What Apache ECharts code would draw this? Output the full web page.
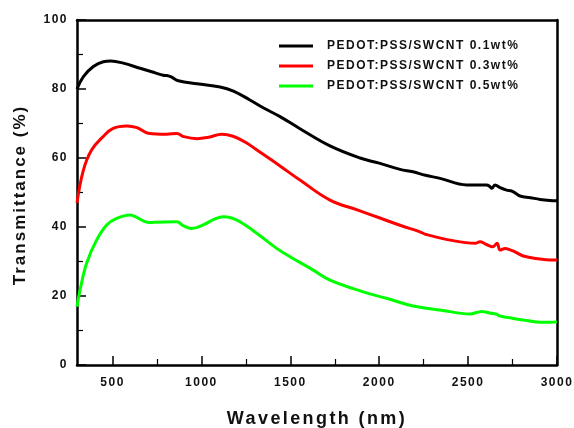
<!DOCTYPE html>
<html>
<head>
<meta charset="utf-8">
<script src="https://cdn.jsdelivr.net/npm/echarts@6/dist/echarts.min.js"></script>
<style>html,body{margin:0;padding:0;background:#fff;}#c{width:574px;height:428px;}</style>
</head>
<body>
<div id="c"></div>
<script>
// ---- data ----
const seriesNames = ['PEDOT:PSS/SWCNT 0.1wt%', 'PEDOT:PSS/SWCNT 0.3wt%', 'PEDOT:PSS/SWCNT 0.5wt%'];
const blackX = [300, 336, 392, 448, 490, 560, 655, 720, 785, 805, 830, 870, 975, 1105, 1180, 1270, 1350, 1442, 1554, 1723, 1892, 2000, 2117, 2190, 2260, 2342, 2492, 2604, 2623, 2633, 2651, 2680, 2717, 2740, 2764, 2792, 2850, 2905, 2960, 3000];
const blackY = [80.0, 83.6, 86.5, 87.9, 88.1, 87.5, 86.0, 85.0, 84.0, 83.9, 83.5, 82.4, 81.5, 80.6, 79.4, 76.9, 74.5, 72.0, 68.5, 63.5, 60.0, 58.5, 56.7, 56.0, 55.0, 54.1, 52.2, 52.2, 51.7, 51.2, 52.2, 51.4, 50.7, 50.5, 49.9, 49.0, 48.5, 48.0, 47.7, 47.6];
const redX = [300, 336, 382, 447, 503, 580, 637, 700, 805, 862, 900, 975, 1040, 1115, 1178, 1250, 1312, 1442, 1554, 1723, 1880, 2004, 2117, 2229, 2260, 2398, 2540, 2567, 2600, 2640, 2663, 2680, 2708, 2740, 2764, 2810, 2905, 2960, 3000];
const redY = [47.0, 56.5, 62.3, 66.2, 68.6, 69.3, 68.8, 67.2, 66.9, 67.1, 66.2, 65.6, 66.0, 66.9, 66.3, 64.5, 62.3, 57.7, 53.6, 47.8, 44.9, 42.6, 40.5, 38.6, 37.9, 36.2, 35.3, 35.7, 35.0, 34.3, 35.3, 33.3, 33.8, 33.3, 32.8, 31.6, 30.7, 30.4, 30.4];
const greenX = [300, 317, 354, 410, 467, 523, 598, 636, 701, 760, 861, 900, 945, 1010, 1070, 1123, 1170, 1217, 1311, 1423, 1498, 1629, 1723, 1910, 2050, 2191, 2350, 2511, 2548, 2576, 2620, 2660, 2680, 2753, 2830, 2905, 2960, 3000];
const greenY = [16.9, 21.7, 29.5, 36.2, 40.6, 42.5, 43.5, 42.8, 41.3, 41.4, 41.5, 40.3, 39.6, 40.6, 42.2, 43.0, 42.6, 41.5, 38.2, 33.8, 31.4, 27.5, 24.6, 21.2, 19.2, 17.1, 15.9, 14.8, 15.2, 15.5, 15.1, 14.7, 14.2, 13.5, 12.9, 12.4, 12.4, 12.5];
const xMajorTicks = [500, 1000, 1500, 2000, 2500, 3000];
const xMinorTicks = [750, 1250, 1750, 2250, 2750];

// letter spacing for the wide-spaced bold lettering of the original
(function () {
  const proto = CanvasRenderingContext2D.prototype;
  const d = Object.getOwnPropertyDescriptor(proto, 'font');
  if (!d || !('letterSpacing' in proto)) return;
  Object.defineProperty(proto, 'font', {
    configurable: true,
    get() { return d.get.call(this); },
    set(v) {
      d.set.call(this, v);
      const m = /(\d+(?:\.\d+)?)px/.exec(v);
      const s = m ? parseFloat(m[1]) : 12;
      this.letterSpacing = (s >= 17.8 ? 2.4 : (s >= 15 ? 2.0 : (s >= 11 ? 1.5 : 0))) + 'px';
    }
  });
})();

function pairs(xs, ys) { return xs.map((x, i) => [x, ys[i]]); }

const FONT = '"Liberation Sans", Arial, sans-serif';
const chart = echarts.init(document.getElementById('c'), null, { renderer: 'canvas' });
const colors = ['#000000', '#ff0000', '#00ff00'];
const dataSets = [pairs(blackX, blackY), pairs(redX, redY), pairs(greenX, greenY)];
const plain = v => String(v);

chart.setOption({
  animation: false,
  backgroundColor: '#fff',
  grid: { left: 77, right: 17, top: 20, bottom: 63, containLabel: false, outerBoundsMode: 'none' },
  legend: {
    orient: 'vertical', left: 274, top: 34, itemWidth: 34, itemHeight: 3, itemGap: 6, icon: 'rect',
    data: seriesNames,
    textStyle: { fontFamily: FONT, fontWeight: 'bold', fontSize: 12, color: '#111', lineHeight: 14, padding: [0, 0, 0, 9] }
  },
  xAxis: [{
    type: 'value', min: 300, max: 3000,
    name: 'Wavelength (nm)', nameLocation: 'middle', nameGap: 44,
    nameTextStyle: { fontFamily: FONT, fontWeight: 'bold', fontSize: 18, color: '#111' },
    axisLine: { show: true, lineStyle: { color: '#000', width: 2.5 } },
    axisTick: { show: true, inside: true, length: 9, customValues: xMajorTicks, lineStyle: { color: '#000', width: 1.5 } },
    axisLabel: { customValues: xMajorTicks, formatter: plain, margin: 11, fontFamily: FONT, fontWeight: 'bold', fontSize: 12, color: '#111' },
    splitLine: { show: false }
  }, {
    type: 'value', min: 300, max: 3000, position: 'bottom',
    axisLine: { show: false },
    axisTick: { show: true, inside: true, length: 6, customValues: xMinorTicks, lineStyle: { color: '#000', width: 1.2 } },
    axisLabel: { show: false },
    splitLine: { show: false }
  }, {
    type: 'value', min: 300, max: 3000, position: 'top',
    axisLine: { show: true, lineStyle: { color: '#000', width: 2.5 } },
    axisTick: { show: false }, axisLabel: { show: false }, splitLine: { show: false }
  }],
  yAxis: [{
    type: 'value', min: 0, max: 100, interval: 20,
    name: 'Transmittance (%)', nameLocation: 'middle', nameGap: 47,
    nameTextStyle: { fontFamily: FONT, fontWeight: 'bold', fontSize: 17, color: '#111', padding: [0, 5, 0, 0] },
    axisLine: { show: true, lineStyle: { color: '#000', width: 2.5 } },
    axisTick: { show: true, inside: true, length: 9, lineStyle: { color: '#000', width: 1.5 } },
    minorTick: { show: true, splitNumber: 2, length: 6, lineStyle: { color: '#000', width: 1.2 } },
    axisLabel: { formatter: plain, margin: 9, fontFamily: FONT, fontWeight: 'bold', fontSize: 12, color: '#111' },
    splitLine: { show: false }, minorSplitLine: { show: false }
  }, {
    type: 'value', min: 0, max: 100, position: 'right',
    axisLine: { show: true, lineStyle: { color: '#000', width: 2.5 } },
    axisTick: { show: false }, axisLabel: { show: false }, splitLine: { show: false }
  }],
  series: seriesNames.map((n, i) => ({
    name: n, type: 'line', xAxisIndex: 0, yAxisIndex: 0, data: dataSets[i],
    showSymbol: false, symbol: 'none', smooth: 0.4,
    lineStyle: { color: colors[i], width: 3 }, itemStyle: { color: colors[i] }
  }))
});
</script>
</body>
</html>
